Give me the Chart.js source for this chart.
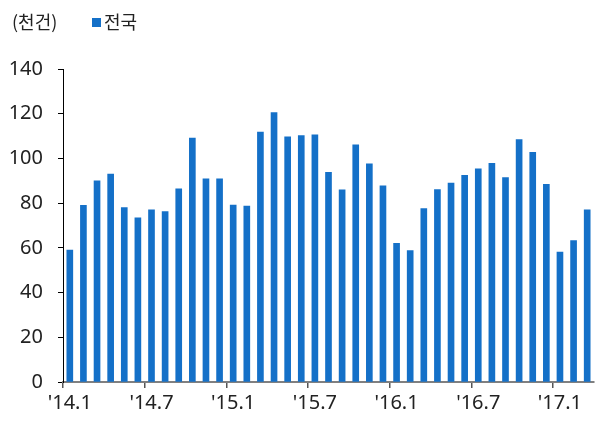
<!DOCTYPE html>
<html>
<head>
<meta charset="utf-8">
<script src="https://cdn.jsdelivr.net/npm/chart.js@4/dist/chart.umd.min.js"></script>
<style>
	body { margin: 0; background: #fff; }
	#wrap { position: relative; width: 597px; height: 424px; }
	.lbl { position: absolute; font-family: "Noto Sans CJK KR", "Noto Sans", sans-serif; font-size: 18px; color: #222; line-height: 1; }
	#unit { left: 12px; top: 12px; }
	#legend { left: 92px; top: 12px; }
	#legend span { display: inline-block; width: 9px; height: 9px; background: #1470c8; margin-right: 3px; vertical-align: 2px; }
</style>
</head>
<body>
<div id="wrap">
	<canvas id="chart" width="597" height="424"></canvas>
	<div class="lbl" id="unit">(천건)</div>
	<div class="lbl" id="legend"><span></span>전국</div>
</div>
<script>
// monthly, '14.1 ~ '17.3
const months = [
	"'14.1", "'14.2", "'14.3", "'14.4", "'14.5", "'14.6", "'14.7", "'14.8", "'14.9", "'14.10", "'14.11", "'14.12",
	"'15.1", "'15.2", "'15.3", "'15.4", "'15.5", "'15.6", "'15.7", "'15.8", "'15.9", "'15.10", "'15.11", "'15.12",
	"'16.1", "'16.2", "'16.3", "'16.4", "'16.5", "'16.6", "'16.7", "'16.8", "'16.9", "'16.10", "'16.11", "'16.12",
	"'17.1", "'17.2", "'17.3"
];
const nationwide = [
	59, 79, 90, 93, 78, 73.4, 77, 76.2, 86.4, 109.1, 90.9, 90.9,
	79.1, 78.7, 111.8, 120.5, 109.7, 110.2, 110.5, 93.8, 86, 106.1, 97.6, 87.7,
	62, 58.8, 77.6, 86.1, 89, 92.4, 95.3, 97.8, 91.4, 108.4, 102.7, 88.4,
	58.1, 63.3, 77
];
const yTicks = [0, 20, 40, 60, 80, 100, 120, 140];

const tickFont = { family: "'Noto Sans', sans-serif", size: 20 };

new Chart(document.getElementById('chart'), {
	type: 'bar',
	data: {
		labels: months,
		datasets: [{
			label: '전국',
			data: nationwide,
			backgroundColor: '#1470c8',
			barThickness: 6
		}]
	},
	options: {
		responsive: false,
		animation: false,
		layout: { padding: { left: 10, right: 3, top: 69, bottom: 6 } },
		plugins: { legend: { display: false }, tooltip: { enabled: false } },
		scales: {
			x: {
				grid: {
					drawOnChartArea: false,
					tickLength: 6,
					lineWidth: 1.5,
					color: (ctx) => (ctx.index % 6 === 0 ? '#555' : 'rgba(0,0,0,0)')
				},
				border: { color: '#808080', width: 2 },
				ticks: {
					autoSkip: false,
					maxRotation: 0,
					padding: 3,
					color: '#222',
					font: tickFont,
					callback: function (val, i) { return i % 6 === 0 ? months[i] : ''; }
				}
			},
			y: {
				min: 0,
				max: 140,
				afterBuildTicks: (axis) => { axis.ticks = yTicks.map(v => ({ value: v })); },
				afterFit: (axis) => { axis.width = 53; },
				grid: { drawOnChartArea: false, tickLength: 5, color: '#000' },
				border: { color: '#000', width: 1 },
				ticks: { padding: 15, color: '#222', font: tickFont }
			}
		}
	}
});
</script>
</body>
</html>
